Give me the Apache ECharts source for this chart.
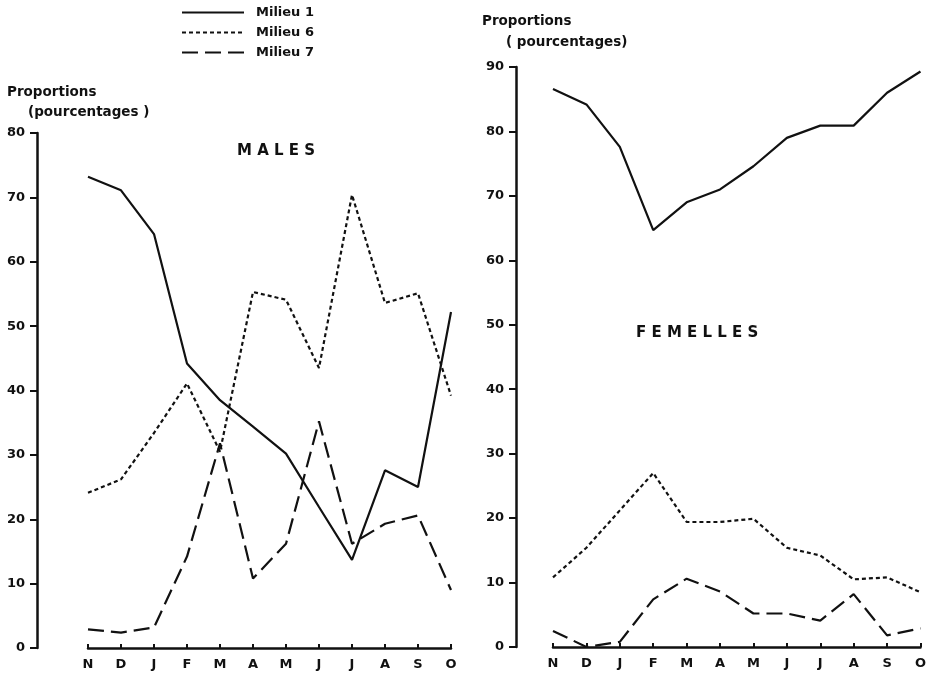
<!DOCTYPE html>
<html><head><meta charset="utf-8">
<script src="https://cdn.jsdelivr.net/npm/echarts@6/dist/echarts.min.js"></script>
<style>html,body{margin:0;padding:0;background:#fff}#c{width:929px;height:675px}</style>
</head><body><div id="c"></div>
<script>
const months = ['N','D','J','F','M','A','M','J','J','A','S','O'];
const seriesNames = ['Milieu 1','Milieu 6','Milieu 7'];
const malesM1 = [73.2, 71.1, 64.3, 44.2, 38.5, 34.4, 30.2, 21.9, 13.7, 27.6, 25.0, 52.2];
const malesM6 = [24.1, 26.2, 33.4, 41.1, 30.5, 55.3, 54.1, 43.5, 70.4, 53.6, 55.1, 39.2];
const malesM7 = [2.9, 2.4, 3.2, 14.2, 31.8, 10.8, 16.2, 35.2, 16.2, 19.3, 20.6, 9.0];
const femM1 = [86.6, 84.2, 77.6, 64.7, 69.0, 71.0, 74.6, 79.0, 80.9, 80.9, 86.0, 89.3];
const femM6 = [10.8, 15.4, 21.2, 27.0, 19.4, 19.4, 19.9, 15.4, 14.2, 10.5, 10.8, 8.5];
const femM7 = [2.5, 0.0, 0.8, 7.4, 10.6, 8.6, 5.2, 5.2, 4.1, 8.2, 1.8, 2.9];
const leftTicks = {min: 0, max: 80, interval: 10};
const rightTicks = {min: 0, max: 90, interval: 10};

const FONT = 'DejaVu Sans';
const lineTypes = ['solid', [4, 3], [16, 7]];
const chart = echarts.init(document.getElementById('c'));

function yAx(grid, t, off) {
  return {
    type: 'value', gridIndex: grid, min: t.min, max: t.max, interval: t.interval, offset: off,
    axisLine: {show: true, lineStyle: {color: '#111', width: 2.5}},
    axisTick: {show: true, length: 7, lineStyle: {color: '#111', width: 2}},
    axisLabel: {color: '#111', fontFamily: FONT, fontWeight: 'bold', fontSize: 13, margin: 12},
    splitLine: {show: false}
  };
}
function xAx(grid) {
  return {
    type: 'category', gridIndex: grid, data: months, boundaryGap: false,
    axisLine: {show: true, lineStyle: {color: '#111', width: 2.5}},
    axisTick: {show: true, inside: true, length: 4, alignWithLabel: true, lineStyle: {color: '#111', width: 2}},
    axisLabel: {color: '#111', fontFamily: FONT, fontWeight: 'bold', fontSize: 13, margin: 10, interval: 0},
    splitLine: {show: false}
  };
}
function ser(name, data, idx, grid) {
  return {
    name, type: 'line', data, xAxisIndex: grid, yAxisIndex: grid, symbol: 'none',
    lineStyle: {color: '#111', width: 2.2, type: lineTypes[idx]}, itemStyle: {color: '#111'},
    silent: true, animation: false
  };
}
const titleStyle = {color: '#111', fontFamily: FONT, fontWeight: 'bold', fontSize: 13.5};
chart.setOption({
  backgroundColor: '#fff',
  animation: false,
  title: [
    {text: 'Proportions', left: 2, top: 80, textStyle: titleStyle},
    {text: '(pourcentages )', left: 23, top: 100, textStyle: titleStyle},
    {text: 'M A L E S', left: 232, top: 139, textStyle: {color: '#111', fontFamily: FONT, fontWeight: 'bold', fontSize: 15}},
    {text: 'Proportions', left: 477, top: 9, textStyle: titleStyle},
    {text: '( pourcentages)', left: 501, top: 30, textStyle: titleStyle},
    {text: 'F E M E L L E S', left: 631, top: 321, textStyle: {color: '#111', fontFamily: FONT, fontWeight: 'bold', fontSize: 15}}
  ],
  legend: {
    orient: 'vertical', left: 176, top: 1, itemWidth: 62, itemHeight: 14, itemGap: 7,
    data: seriesNames,
    itemStyle: {opacity: 0},
    textStyle: {color: '#111', fontFamily: FONT, fontWeight: 'bold', fontSize: 13, padding: [0, 0, 0, 7]},
    selectedMode: false
  },
  grid: [
    {left: 88, right: 478, top: 133, bottom: 27},
    {left: 553, right: 7, top: 67, bottom: 28}
  ],
  xAxis: [xAx(0), xAx(1)],
  yAxis: [yAx(0, leftTicks, 51), yAx(1, rightTicks, 37)],
  series: [
    ser('Milieu 1', malesM1, 0, 0), ser('Milieu 6', malesM6, 1, 0), ser('Milieu 7', malesM7, 2, 0),
    ser('Milieu 1', femM1, 0, 1), ser('Milieu 6', femM6, 1, 1), ser('Milieu 7', femM7, 2, 1)
  ]
});
</script></body></html>
